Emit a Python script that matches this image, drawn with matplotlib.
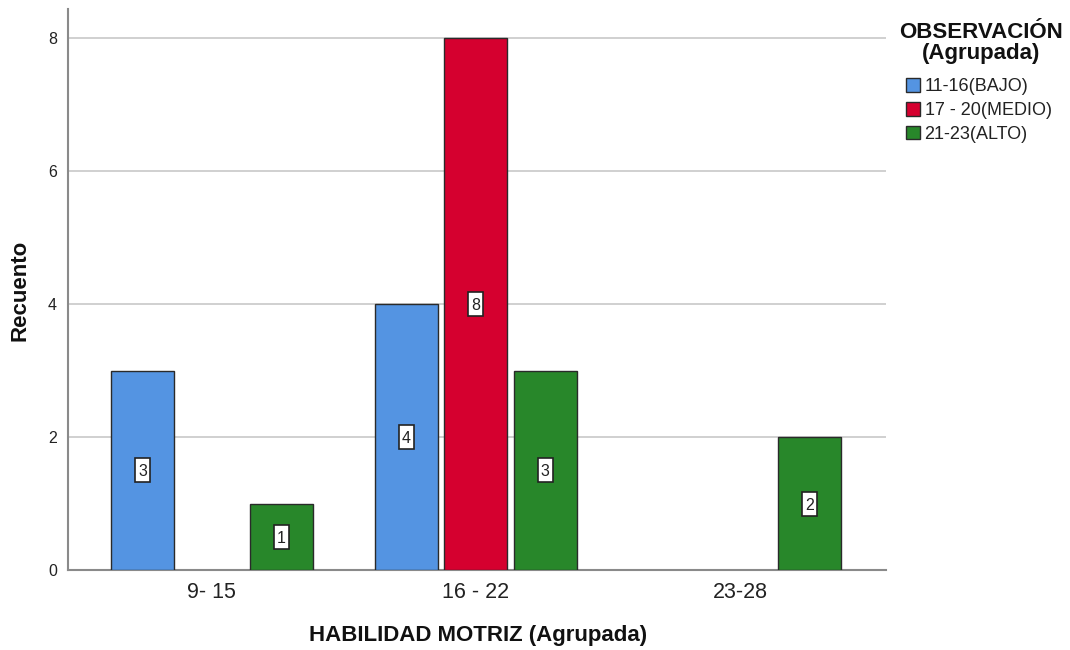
import matplotlib
matplotlib.use("Agg")
import matplotlib.pyplot as plt
import matplotlib.transforms as mtransforms
import numpy as np

plt.rcParams['font.family'] = ['Liberation Sans', 'DejaVu Sans']

categories = ["9- 15", "16 - 22", "23-28"]
series_names = ["11-16(BAJO)", "17 - 20(MEDIO)", "21-23(ALTO)"]
bajo = [3, 4, 0]
medio = [0, 8, 0]
alto = [1, 3, 2]
colors = ["#5494E2", "#D5002F", "#28872A"]
yticks = [0, 2, 4, 6, 8]

W, H = 1070, 650
fig = plt.figure(figsize=(W / 100, H / 100), dpi=100)
ax = fig.add_axes([68/W, 1-570/H, (886-68)/W, (570-9)/H])

x = np.arange(len(categories))
w = 0.239
offsets = [-0.263, 0.0, 0.263]
handles = []
for vals, off, col, name in zip([bajo, medio, alto], offsets, colors, series_names):
    for xi, v in zip(x, vals):
        if v <= 0:
            continue
        ax.bar(xi + off, v, width=w, color=col, edgecolor="#2a2a2a", linewidth=1.0, zorder=3)
        trans = fig.dpi_scale_trans + mtransforms.ScaledTranslation(xi + off, v / 2, ax.transData)
        ax.add_patch(plt.Rectangle((-0.075, -0.12), 0.15, 0.24, transform=trans,
                                   facecolor="white", edgecolor="#222222", linewidth=1.2, zorder=4,
                                   clip_on=False))
        ax.text(xi + off, v / 2, f"{int(v)}", ha="center", va="center_baseline", fontsize=11.5,
                color="#222222", zorder=5)
    handles.append(plt.Rectangle((0, 0), 1, 1, facecolor=col, edgecolor="#2a2a2a", linewidth=1.0))

ax.set_xlim(-0.545, 2.553)
ax.set_ylim(0, 8.44)
ax.set_yticks(yticks)
ax.set_yticklabels([str(t) for t in yticks], fontsize=11.5, color="#222222")
ax.set_xticks(x)
ax.set_xticklabels(categories, fontsize=15.5, color="#222222")
ax.tick_params(axis="y", length=0, pad=8)
ax.tick_params(axis="x", length=0, pad=9)
for t in yticks[1:]:
    ax.axhline(t, color="#c8c8c8", linewidth=1.2, zorder=1)
for s in ["top", "right"]:
    ax.spines[s].set_visible(False)
for s in ["left", "bottom"]:
    ax.spines[s].set_color("#8a8a8a")
    ax.spines[s].set_linewidth(1.5)

fig.text(478/W, 1-636/H, "HABILIDAD MOTRIZ (Agrupada)", fontsize=16, fontweight="bold",
         ha="center", va="center", color="#111111")
fig.text(20/W, 1-290/H, "Recuento", fontsize=16, fontweight="bold", rotation=90,
         ha="center", va="center", color="#111111")

fig.text(981/W, 1-33/H, "OBSERVACIÓN", fontsize=16, fontweight="bold", ha="center", va="center",
         color="#111111")
fig.text(981/W, 1-53/H, "(Agrupada)", fontsize=16, fontweight="bold", ha="center", va="center",
         color="#111111")

leg = fig.legend(handles, series_names,
                 loc="upper left", bbox_to_anchor=(906/W, 1-78/H),
                 frameon=False, fontsize=13,
                 handlelength=0.78, handleheight=0.78, handletextpad=0.25, labelspacing=0.38,
                 borderaxespad=0, borderpad=0)
for t in leg.get_texts():
    t.set_color("#222222")

fig.savefig("out.png", dpi=100)
